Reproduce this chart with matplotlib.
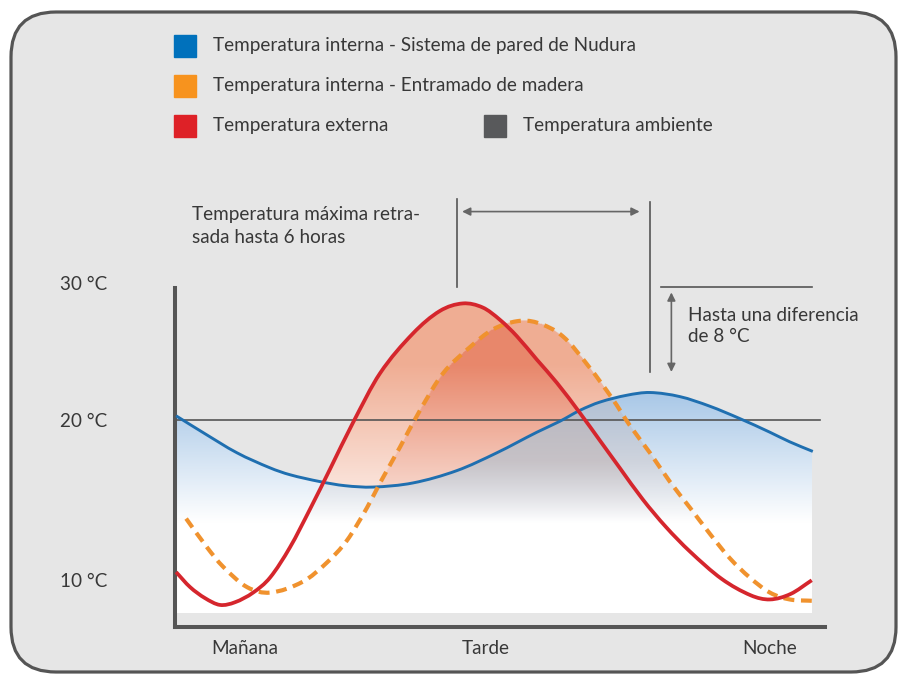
import numpy as np
import matplotlib.pyplot as plt
from matplotlib.patches import FancyBboxPatch, Rectangle, PathPatch
from matplotlib.path import Path

plt.rcParams['font.family'] = ['Lato', 'DejaVu Sans']

# --- data (hours of the day, temperature in °C) ---
x_red = [0.0, 0.53, 1.09, 1.66, 2.23, 2.91, 3.55, 4.3, 5.06, 5.81, 6.68, 7.7,
         8.94, 9.96, 10.83, 11.58, 12.23, 12.87, 13.62, 14.38, 15.25, 16.0,
         16.75, 17.62, 18.49, 19.4, 20.6, 21.7, 22.42, 23.2, 24.0]
t_red = [8.9, 7.8, 7.0, 6.5, 6.7, 7.4, 8.5, 10.7, 13.5, 16.4, 19.8, 23.4, 26.3,
         27.95, 28.5, 28.2, 27.3, 26.1, 24.4, 22.7, 20.5, 18.5, 16.5, 14.2, 12.2,
         10.4, 8.4, 7.2, 6.9, 7.3, 8.3]

x_orange = [0.38, 1.17, 1.77, 2.68, 3.55, 4.79, 5.7, 6.45, 7.21, 7.7, 8.45,
            9.21, 10.08, 11.09, 11.96, 12.87, 13.62, 14.6, 15.62, 16.49, 17.13,
            17.89, 18.64, 19.4, 20.15, 20.91, 21.66, 22.42, 23.17, 24.04]
t_orange = [12.8, 10.7, 9.3, 7.8, 7.4, 8.2, 9.6, 11.2, 13.6, 15.4, 18.0, 20.7,
            23.4, 25.3, 26.6, 27.2, 27.1, 26.1, 23.8, 21.5, 19.6, 17.6, 15.5,
            13.6, 11.7, 9.9, 8.5, 7.4, 6.9, 6.8]

x_blue = [0.0, 1.0, 2.3, 3.55, 4.3, 5.43, 6.38, 7.43, 8.94, 10.6, 12.11, 13.62,
          14.49, 15.25, 16.0, 17.02, 17.89, 19.02, 20.15, 21.28, 22.42, 23.17,
          24.04]
t_blue = [20.3, 19.1, 17.6, 16.5, 16.0, 15.5, 15.2, 15.1, 15.4, 16.3, 17.6, 19.1,
          19.9, 20.7, 21.3, 21.8, 22.0, 21.7, 21.0, 20.1, 19.1, 18.4, 17.7]

ambient = 20
ytick_pos = [8.3, 20, 30]
ytick_labels = ['10 °C', '20 °C', '30 °C']
xtick_pos = [2.6, 11.7, 22.4]
xtick_labels = ['Mañana', 'Tarde', 'Noche']

legend_labels = ['Temperatura interna - Sistema de pared de Nudura',
                 'Temperatura interna - Entramado de madera',
                 'Temperatura externa',
                 'Temperatura ambiente']
legend_colors = ['#0071bc', '#f7931e', '#de2127', '#58595b']

RED, ORANGE, BLUE, GREY, TXT = '#d5262d', '#f0922e', '#1f6fb0', '#555555', '#383838'
FS = 13.6

W, H = 898, 675


def fx(px):
    return px / W


def fy(py):
    return 1 - py / H


def smooth_path(x, y):
    # cubic Hermite curve through the points, drawn as Bezier segments
    x, y = np.asarray(x, float), np.asarray(y, float)
    m = np.empty_like(y)
    m[1:-1] = (y[2:] - y[:-2]) / (x[2:] - x[:-2])
    m[0] = (y[1] - y[0]) / (x[1] - x[0])
    m[-1] = (y[-1] - y[-2]) / (x[-1] - x[-2])
    verts, codes = [(x[0], y[0])], [Path.MOVETO]
    for i in range(len(x) - 1):
        h = (x[i + 1] - x[i]) / 3
        verts += [(x[i] + h, y[i] + m[i] * h), (x[i + 1] - h, y[i + 1] - m[i + 1] * h),
                  (x[i + 1], y[i + 1])]
        codes += [Path.CURVE4] * 3
    return Path(verts, codes)


def dense(path):
    v = path.to_polygons(closed_only=False)[0]
    return v[:, 0], v[:, 1]


fig = plt.figure(figsize=(W / 100, H / 100), dpi=100, facecolor='white')

# rounded panel
panel = FancyBboxPatch((11, 3), 885, 660, boxstyle='round,pad=0,rounding_size=45',
                       transform=None, facecolor='#e6e6e6', edgecolor='#555555',
                       lw=2.3, zorder=-5)
fig.patches.append(panel)

ax = fig.add_axes([fx(175), fy(627), fx(825) - fx(175), fy(276) - fy(627)])
ax.set_zorder(2)
ax.set_facecolor('none')
ax.set_xlim(-0.04, 24.5)
ax.set_ylim(4.89, 30.5)

path_red = smooth_path(x_red, t_red)
path_orange = smooth_path(x_orange, t_orange)
path_blue = smooth_path(x_blue, t_blue)

# gradient fills under the curves
floor = 5.9
xs = np.linspace(x_red[0], x_red[-1], 700)
ts = np.linspace(floor, 29.0, 480)
XX, TT = np.meshgrid(xs, ts)
R = np.interp(xs, *dense(path_red))[None, :]
O = np.interp(xs, *dense(path_orange))[None, :]
B = np.interp(xs, *dense(path_blue))[None, :]
under_b = TT < B
n_warm = (TT < R).astype(float) + (TT < O).astype(float)

white = np.array([1.0, 1.0, 1.0])
light_blue = np.array([0.64, 0.77, 0.90])
grey_mix = np.array([0.74, 0.67, 0.66])

wb = np.clip((TT - 12.5) / 10.0, 0, 1)[..., None]
blue_col = white * (1 - wb) + light_blue * wb
g = (np.clip((TT - 12.5) / 4.5, 0, 1) * 0.3 * n_warm)[..., None]
blue_col = blue_col * (1 - g) + grey_mix * g

s = np.clip((TT - 13) / 11.0, 0, 1)[..., None]
c1 = np.array([0.99, 0.94, 0.92]) * (1 - s) + np.array([0.94, 0.68, 0.58]) * s
c2 = np.array([0.98, 0.90, 0.87]) * (1 - s) + np.array([0.91, 0.53, 0.42]) * s
warm_col = np.where((n_warm >= 2)[..., None], c2, c1)

rgba = np.zeros(TT.shape + (4,))
rgba[..., :3] = np.where(under_b[..., None], blue_col, warm_col)
rgba[..., 3] = ((under_b) | (n_warm > 0)).astype(float)
ax.imshow(rgba, extent=[xs[0], xs[-1], floor, ts[-1]], origin='lower',
          aspect='auto', interpolation='bilinear', zorder=1)

ax.plot([0, 24.3], [ambient, ambient], color=GREY, lw=1.2, zorder=2)
ax.add_patch(PathPatch(path_blue, fill=False, edgecolor=BLUE, lw=2.1, zorder=3))
ax.add_patch(PathPatch(path_orange, fill=False, edgecolor=ORANGE, lw=3.0,
                       linestyle=(0, (2.6, 1.6)), zorder=4))
ax.add_patch(PathPatch(path_red, fill=False, edgecolor=RED, lw=2.7, zorder=5))

for side in ['top', 'right']:
    ax.spines[side].set_visible(False)
for side in ['left', 'bottom']:
    ax.spines[side].set_color(GREY)
    ax.spines[side].set_linewidth(2.9)
ax.spines['left'].set_bounds(4.89, 29.6)

ax.set_yticks(ytick_pos, ytick_labels)
ax.set_xticks(xtick_pos, xtick_labels)
ax.tick_params(axis='y', length=0, pad=49, labelsize=FS, labelcolor=TXT)
ax.tick_params(axis='x', length=0, pad=9, labelsize=FS, labelcolor=TXT)

# annotations: delay of the maximum and amplitude difference
ax.plot([10.6, 10.6], [29.7, 36.1], color=GREY, lw=1.2, clip_on=False)
ax.plot([17.9, 17.9], [23.5, 35.9], color=GREY, lw=1.2, clip_on=False)
ax.plot([18.3, 24.0], [29.7, 29.7], color=GREY, lw=1.2, clip_on=False)
ax.annotate('', xy=(17.5, 35.2), xytext=(10.8, 35.2), annotation_clip=False,
            arrowprops=dict(arrowstyle='<|-|>', color='#666666', lw=1.2,
                            mutation_scale=12, shrinkA=0, shrinkB=0))
ax.annotate('', xy=(18.7, 29.3), xytext=(18.7, 23.5), annotation_clip=False,
            arrowprops=dict(arrowstyle='<|-|>', color='#666666', lw=1.2,
                            mutation_scale=12, shrinkA=0, shrinkB=0))

fig.text(fx(192), fy(226), 'Temperatura máxima retra-\nsada hasta 6 horas',
         ha='left', va='center', fontsize=FS, color=TXT, linespacing=1.45)
fig.text(fx(688), fy(326), 'Hasta una diferencia\nde 8 °C',
         ha='left', va='center', fontsize=FS, color=TXT, linespacing=1.35)

# legend
legend_pos = [(174, 46), (174, 86), (174, 126), (484, 126)]
for (lx, ly), lab, col in zip(legend_pos, legend_labels, legend_colors):
    fig.patches.append(Rectangle((fx(lx), fy(ly + 11)), fx(22), 22 / H,
                                 transform=fig.transFigure, color=col))
    fig.text(fx(lx + 39), fy(ly - 1), lab, ha='left', va='center',
             fontsize=FS, color=TXT)

fig.savefig('out.png', dpi=100)
